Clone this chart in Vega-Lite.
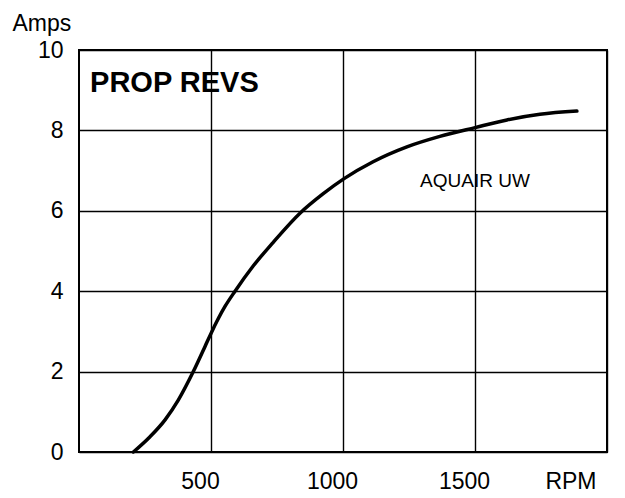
{
  "$schema": "https://vega.github.io/schema/vega-lite/v6.json",
  "width": 528,
  "height": 402,
  "autosize": "none",
  "padding": {"left": 79, "top": 50, "right": 18, "bottom": 46},
  "background": "white",
  "config": {
    "font": "Liberation Sans",
    "view": {"stroke": "black", "strokeWidth": 2},
    "axis": {
      "grid": true,
      "gridColor": "black",
      "gridOpacity": 1,
      "gridWidth": 1.4,
      "domain": false,
      "ticks": false,
      "labelColor": "black",
      "labelFont": "Liberation Sans",
      "labelFontSize": 23,
      "titleColor": "black",
      "titleFont": "Liberation Sans"
    }
  },
  "datasets": {
    "curve": [
      {"rpm": 206, "amps": 0},
      {"rpm": 269, "amps": 0.38},
      {"rpm": 326, "amps": 0.8},
      {"rpm": 376, "amps": 1.29},
      {"rpm": 433, "amps": 2.0},
      {"rpm": 477, "amps": 2.62},
      {"rpm": 500, "amps": 2.95},
      {"rpm": 553, "amps": 3.62},
      {"rpm": 591, "amps": 4.0},
      {"rpm": 659, "amps": 4.62},
      {"rpm": 735, "amps": 5.21},
      {"rpm": 837, "amps": 5.94},
      {"rpm": 924, "amps": 6.42},
      {"rpm": 1004, "amps": 6.8},
      {"rpm": 1114, "amps": 7.22},
      {"rpm": 1242, "amps": 7.59},
      {"rpm": 1367, "amps": 7.85},
      {"rpm": 1500, "amps": 8.07},
      {"rpm": 1621, "amps": 8.26},
      {"rpm": 1746, "amps": 8.4},
      {"rpm": 1886, "amps": 8.48}
    ],
    "labels": [
      {"rpm": 42, "amps": 9.18, "text": "PROP REVS", "kind": "title"},
      {"rpm": 1500, "amps": 6.75, "text": "AQUAIR UW", "kind": "series"}
    ]
  },
  "layer": [
    {
      "data": {"name": "curve"},
      "mark": {"type": "line", "color": "black", "strokeWidth": 3.5, "interpolate": "monotone", "strokeCap": "round"},
      "encoding": {
        "x": {
          "field": "rpm", "type": "quantitative",
          "scale": {"domain": [0, 2000], "nice": false, "zero": false},
          "axis": {
            "values": [500, 1000, 1500, 2000],
            "format": "d",
            "labelExpr": "datum.value == 2000 ? 'RPM' : datum.label",
            "labelOffset": -11,
            "labelPadding": 18,
            "title": null
          }
        },
        "y": {
          "field": "amps", "type": "quantitative",
          "scale": {"domain": [0, 10], "nice": false},
          "axis": {
            "values": [0, 2, 4, 6, 8, 10],
            "labelPadding": 16,
            "title": "Amps",
            "titleAngle": 0,
            "titleAlign": "left",
            "titleBaseline": "alphabetic",
            "titleX": -67,
            "titleY": -20,
            "titleFontSize": 23,
            "titleFontWeight": "normal"
          }
        }
      }
    },
    {
      "data": {"name": "labels"},
      "transform": [{"filter": "datum.kind == 'title'"}],
      "mark": {"type": "text", "align": "left", "baseline": "middle", "fontSize": 29, "fontWeight": "bold", "color": "black", "font": "Liberation Sans"},
      "encoding": {
        "x": {"field": "rpm", "type": "quantitative"},
        "y": {"field": "amps", "type": "quantitative"},
        "text": {"field": "text"}
      }
    },
    {
      "data": {"name": "labels"},
      "transform": [{"filter": "datum.kind == 'series'"}],
      "mark": {"type": "text", "align": "center", "baseline": "middle", "fontSize": 19, "color": "black", "font": "Liberation Sans"},
      "encoding": {
        "x": {"field": "rpm", "type": "quantitative"},
        "y": {"field": "amps", "type": "quantitative"},
        "text": {"field": "text"}
      }
    }
  ]
}
